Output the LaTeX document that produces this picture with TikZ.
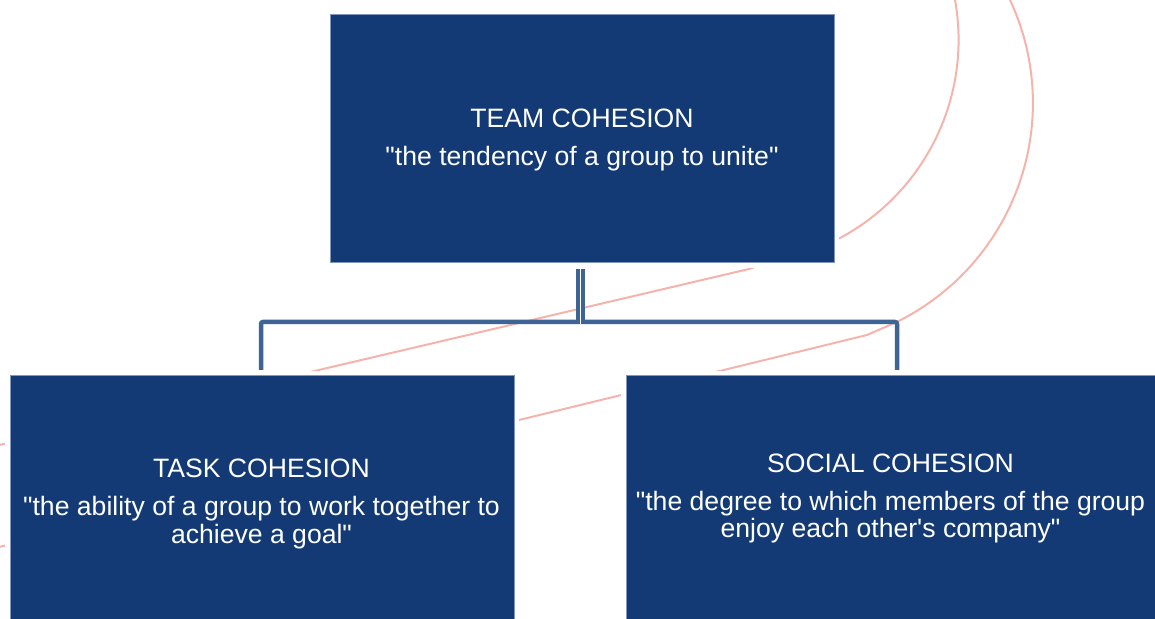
\documentclass[tikz,border=0pt]{standalone}
\usepackage{fontspec}
\usetikzlibrary{calc}
\newfontfamily\arial{Liberation Sans}
\definecolor{navy}{HTML}{133A75}
\definecolor{edge}{HTML}{8096BA}
\definecolor{conncol}{HTML}{3E6496}
\definecolor{pink}{HTML}{F6B3AC}
\tikzset{
  box/.style={rectangle, fill=navy, draw=edge, line width=0.5pt, inner sep=0pt, outer sep=0pt,
    anchor=north west, preaction={draw=white, line width=5pt}},
  txt/.style={text=white, font=\arial\fontsize{13.3}{16}\selectfont, inner sep=0pt, anchor=base},
  conn/.style={draw=conncol, line width=2.25pt},
  swoosh/.style={draw=pink, line width=1pt},
}
\begin{document}
\begin{tikzpicture}[x=0.5pt,y=-0.5pt]
\useasboundingbox (0,0) rectangle (1155,619);
\clip (0,0) rectangle (1155,619);
% decorative curves
\draw[swoosh] (955,0) arc[start angle=-10.2, end angle=61.6, radius=225] -- (749,269) -- (-5,446);
\draw[swoosh] (1010,0) arc[start angle=-25, end angle=63.7, radius=244] -- (867,335) -- (-5,548);
% boxes
\node[box, minimum width=252pt, minimum height=124pt] (team) at (330,15) {};
\node[box, minimum width=252pt, minimum height=126pt] (task) at (10,376) {};
\node[box, minimum width=270pt, minimum height=126pt] (social) at (626,376) {};
% texts
\node[txt] (teamt) at (582,128) {TEAM COHESION};
\node[txt] (teamd) at (582,166) {"the tendency of a group to unite"};
\node[txt] (taskt) at (261.5,478) {TASK COHESION};
\node[txt] (taskd1) at (261.5,516) {"the ability of a group to work together to};
\node[txt] (taskd2) at (261.5,543) {achieve a goal"};
\node[txt] (socialt) at (890.5,473) {SOCIAL COHESION};
\node[txt] (sociald1) at (890.5,510) {"the degree to which members of the group};
\node[txt] (sociald2) at (890.5,537) {enjoy each other's company"};
% connectors
\coordinate (top) at ($(team.south)+(-2,6)$);
\coordinate (j) at (580,322);
\coordinate (lend) at (261,370);
\coordinate (rend) at (897,370);
\draw[conn, rounded corners=1pt] (j) -- (j -| lend) -- (lend);
\draw[conn, rounded corners=1pt] (j) -- (j -| rend) -- (rend);
\draw[draw=conncol, line width=2pt, double=white, double distance=0.5pt] (top) -- ($(j)+(0,2)$);
\end{tikzpicture}
\end{document}
